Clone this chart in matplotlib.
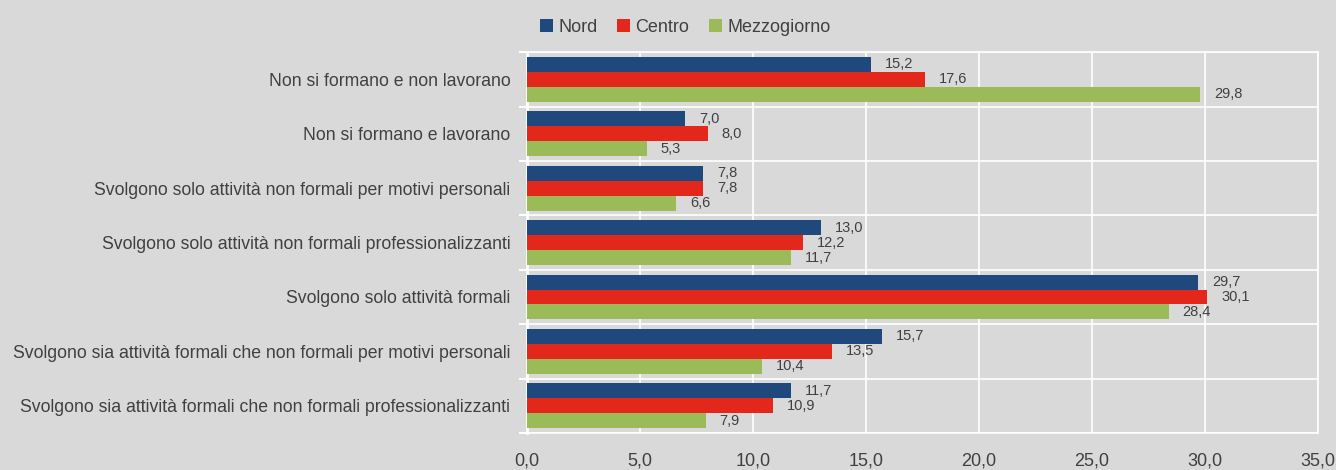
import matplotlib
matplotlib.use("Agg")
import matplotlib.pyplot as plt
from matplotlib import font_manager
import numpy as np

categories = [
    "Non si formano e non lavorano",
    "Non si formano e lavorano",
    "Svolgono solo attività non formali per motivi personali",
    "Svolgono solo attività non formali professionalizzanti",
    "Svolgono solo attività formali",
    "Svolgono sia attività formali che non formali per motivi personali",
    "Svolgono sia attività formali che non formali professionalizzanti",
]
series_names = ["Nord", "Centro", "Mezzogiorno"]
nord = [15.2, 7.0, 7.8, 13.0, 29.7, 15.7, 11.7]
centro = [17.6, 8.0, 7.8, 12.2, 30.1, 13.5, 10.9]
mezzogiorno = [29.8, 5.3, 6.6, 11.7, 28.4, 10.4, 7.9]
xticks = [0, 5, 10, 15, 20, 25, 30, 35]

colors = ["#1f497d", "#e3271b", "#9bbb59"]
bg = "#d9d9d9"
txt = "#404040"

names = {f.name for f in font_manager.fontManager.ttflist}
fam = "Liberation Sans Narrow" if "Liberation Sans Narrow" in names else "Liberation Sans"
plt.rcParams["font.family"] = [fam, "DejaVu Sans"]

fig = plt.figure(figsize=(13.36, 4.70), dpi=100, facecolor=bg)
ax = fig.add_axes([0.3945, 0.0787, 0.592, 0.8103])
ax.set_facecolor(bg)

n = len(categories)
y = np.arange(n)
h = 0.275
data = [nord, centro, mezzogiorno]
for i, (vals, c, name) in enumerate(zip(data, colors, series_names)):
    pos = y + (i - 1) * h
    ax.barh(pos, vals, height=h, color=c, label=name, zorder=3)
    for p, v in zip(pos, vals):
        ax.annotate(f"{v:.1f}".replace(".", ","), xy=(v, p), xytext=(10, 0),
                    textcoords="offset points", va="center", ha="left",
                    fontsize=10.5, color=txt, zorder=4)

ax.set_xlim(0, 35)
ax.set_ylim(n - 0.5, -0.5)
ax.set_xticks(xticks)
ax.set_xticklabels([f"{t:.1f}".replace(".", ",") for t in xticks], fontsize=13, color=txt)
ax.set_yticks(y)
ax.set_yticklabels(categories, fontsize=12.7, color=txt)
ax.set_yticks(np.arange(n + 1) - 0.5, minor=True)
ax.tick_params(axis="y", which="major", length=0, pad=12)
ax.tick_params(axis="y", which="minor", length=6, color="white", width=1.5)
ax.tick_params(axis="x", length=0, pad=14)
ax.grid(axis="x", color="white", linewidth=1.2, zorder=1)
ax.grid(axis="y", which="minor", color="white", linewidth=1.2, zorder=1)
for s in ax.spines.values():
    s.set_color("white")
    s.set_linewidth(1.2)
ax.spines["left"].set_linewidth(2)

leg = fig.legend(loc="upper center", bbox_to_anchor=(0.513, 0.995), ncol=3, frameon=False,
                 fontsize=13, handlelength=0.7, handleheight=0.7, columnspacing=1.1,
                 handletextpad=0.3)
for t in leg.get_texts():
    t.set_color(txt)

fig.savefig("out.png", dpi=100, facecolor=bg)
